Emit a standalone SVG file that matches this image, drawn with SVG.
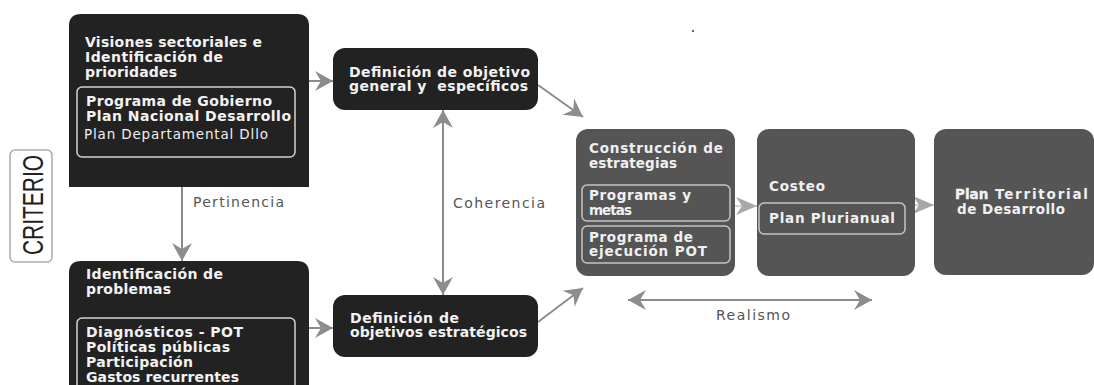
<svg xmlns="http://www.w3.org/2000/svg" width="1094" height="385" viewBox="0 0 1094 385">
<style>
text{font-family:"DejaVu Sans","Liberation Sans",Arial,sans-serif}
.h{font-size:14px;font-weight:bold;fill:#f2f2f2}
.s{font-size:13.5px;font-weight:bold;fill:#f0f0f0}
.r{font-size:13.5px;fill:#f0f0f0}
.lbl{font-size:14px;fill:#555}
.dark{fill:#222}
.gray{fill:#555}
.inD{fill:none;stroke:#d4d4d4;stroke-width:1.5}
.inG{fill:none;stroke:#c4c4c4;stroke-width:1.5}
.c{stroke:#8c8c8c;stroke-width:2;fill:none}
.cl{stroke:#a8a8a8;stroke-width:1;fill:none}
</style>
<defs>
<marker id="ah" viewBox="-20 -11 22 22" refX="0" refY="0" markerWidth="22" markerHeight="22" markerUnits="userSpaceOnUse" orient="auto-start-reverse">
<path d="M0,0 L-18,-10 L-12,0 L-18,10 Z" fill="#8c8c8c"/>
</marker>
<marker id="ahl" viewBox="-22 -11 22 22" refX="0" refY="0" markerWidth="22" markerHeight="22" markerUnits="userSpaceOnUse" orient="auto">
<path d="M0,0 L-21,-9 L-15,0 L-21,9 Z" fill="#a8a8a8"/>
</marker>
</defs>
<rect width="1094" height="385" fill="#fff"/>

<g id="criterio">
<rect x="10" y="150" width="42" height="112" rx="5" fill="none" stroke="#aaa" stroke-width="1.5"/>
<text transform="translate(43,205) rotate(-90)" text-anchor="middle" font-size="30" fill="#222" textLength="100" lengthAdjust="spacingAndGlyphs" style="font-family:'Liberation Sans',Arial,sans-serif">CRITERIO</text>
</g>

<g id="connectors">
<line class="c" x1="309" y1="81" x2="333" y2="81" marker-end="url(#ah)"/>
<line class="c" x1="309" y1="328" x2="333" y2="328" marker-end="url(#ah)"/>
<line class="c" x1="182" y1="187" x2="182" y2="261" marker-end="url(#ah)"/>
<line class="c" x1="443" y1="110" x2="443" y2="295" marker-start="url(#ah)" marker-end="url(#ah)"/>
<line class="c" x1="538" y1="85" x2="583" y2="117" marker-end="url(#ah)"/>
<line class="c" x1="538" y1="322" x2="583" y2="288" marker-end="url(#ah)"/>
<line class="c" x1="628" y1="300" x2="872" y2="300" marker-start="url(#ah)" marker-end="url(#ah)"/>
<line class="cl" x1="735" y1="206" x2="757" y2="206" marker-end="url(#ahl)"/>
<line class="cl" x1="915" y1="205" x2="934" y2="205" marker-end="url(#ahl)"/>
<text class="lbl" x="193" y="207" textLength="91">Pertinencia</text>
<text class="lbl" x="453" y="208" textLength="92">Coherencia</text>
<text class="lbl" x="716" y="320" textLength="74">Realismo</text>
</g>

<g id="visiones">
<path class="dark" d="M69,187 V26 Q69,14 81,14 H297 Q309,14 309,26 V187 Z"/>
<text class="h" x="85" y="47" textLength="177">Visiones sectoriales e</text>
<text class="h" x="85" y="62" textLength="138">Identificación de</text>
<text class="h" x="85" y="77" textLength="92">prioridades</text>
<rect class="inD" x="77" y="87" width="218" height="70" rx="5"/>
<text class="h" x="86" y="106" textLength="186">Programa de Gobierno</text>
<text class="h" x="86" y="121" textLength="205">Plan Nacional Desarrollo</text>
<text class="r" x="84" y="139" textLength="184">Plan Departamental Dllo</text>
</g>

<g id="problemas">
<path class="dark" d="M69,395 V273 Q69,261 81,261 H297 Q309,261 309,273 V395 Z"/>
<text class="h" x="86" y="279" textLength="137">Identificación de</text>
<text class="h" x="86" y="294" textLength="85">problemas</text>
<rect class="inD" x="77" y="318" width="218" height="80" rx="5"/>
<text class="h" x="86" y="337" textLength="157">Diagnósticos - POT</text>
<text class="h" x="86" y="352" textLength="144">Políticas públicas</text>
<text class="h" x="86" y="367" textLength="107">Participación</text>
<text class="h" x="86" y="382" textLength="153">Gastos recurrentes</text>
</g>

<g id="objetivo-general">
<rect class="dark" x="333" y="48" width="205" height="62" rx="12"/>
<text class="h" x="349" y="77" textLength="181">Definición de objetivo</text>
<text class="h" x="349" y="91" textLength="179" style="white-space:pre">general y  específicos</text>
</g>

<g id="objetivos-estrategicos">
<rect class="dark" x="333" y="295" width="205" height="62" rx="12"/>
<text class="h" x="350" y="323" textLength="109">Definición de</text>
<text class="h" x="350" y="337" textLength="177">objetivos estratégicos</text>
</g>

<g id="estrategias">
<rect class="gray" x="576" y="129" width="159" height="147" rx="12"/>
<text class="s" x="589" y="153" textLength="134">Construcción de</text>
<text class="s" x="589" y="168" textLength="88">estrategias</text>
<rect class="inG" x="582" y="185" width="148" height="36" rx="5"/>
<text class="s" x="589" y="200" textLength="102" font-size="13">Programas y</text>
<text class="s" x="589" y="215" textLength="43" font-size="13">metas</text>
<rect class="inG" x="582" y="226" width="148" height="37" rx="5"/>
<text class="s" x="589" y="242" textLength="104">Programa de</text>
<text class="s" x="589" y="256" textLength="118">ejecución POT</text>
</g>

<g id="costeo">
<rect class="gray" x="757" y="129" width="158" height="147" rx="12"/>
<text class="s" x="769" y="191" textLength="56">Costeo</text>
<rect class="inG" x="759" y="203" width="146" height="31" rx="5"/>
<text class="s" x="769" y="223" textLength="126">Plan Plurianual</text>
</g>

<g id="plan-territorial">
<rect class="gray" x="934" y="129" width="160" height="146" rx="12"/>
<text x="955" y="199" font-size="13.5" font-weight="bold" fill="#f4f4f4" stroke="#f4f4f4" stroke-width="0.35">Plan</text>
<text class="s" x="995" y="199" textLength="93">Territorial</text>
<text class="s" x="957" y="214" textLength="108">de Desarrollo</text>
</g>

<rect x="692" y="30" width="2" height="2" fill="#666"/>
</svg>
